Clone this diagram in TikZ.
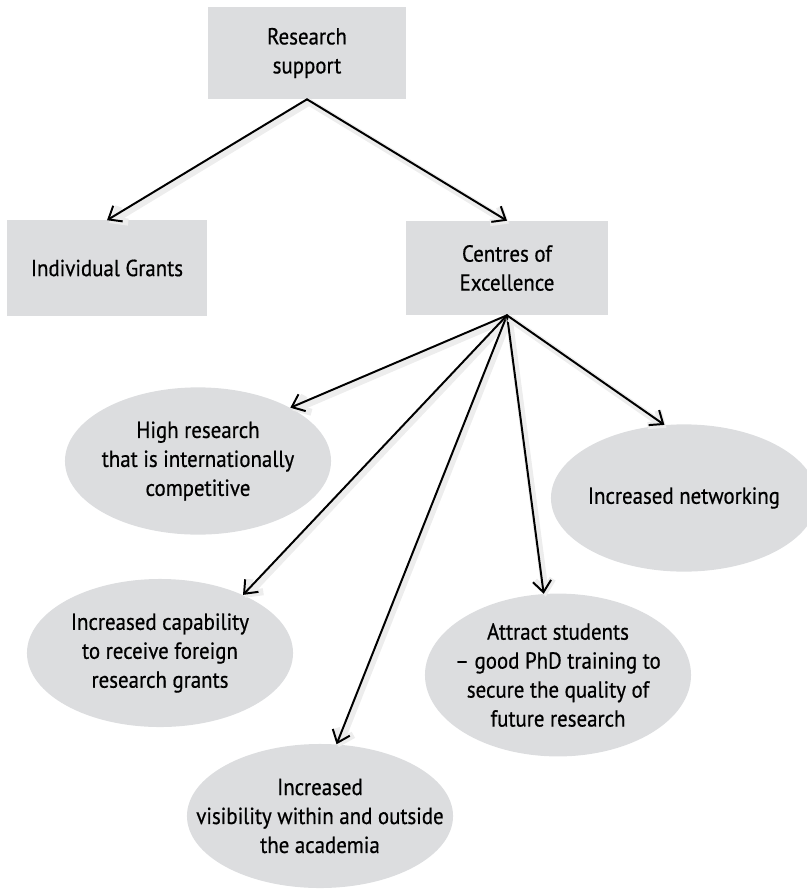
\documentclass[tikz,border=0pt]{standalone}
\usepackage{fontspec}
\setmainfont{PT Sans}[FakeStretch=0.9, FakeBold=0.6]
\usetikzlibrary{shapes.geometric, arrows.meta}
\definecolor{cellgray}{RGB}{220,221,223}
\newcommand{\boxfont}{\fontsize{16.5pt}{20.6pt}\selectfont}
\tikzset{>={Straight Barb[length=8pt,width=13pt]}}
\tikzset{
	block/.style={fill=cellgray, inner sep=0pt, align=center, font=\boxfont},
	oval/.style={ellipse, fill=cellgray, inner sep=0pt, minimum width=6.65cm},
	ovaltext/.style={align=center, font=\boxfont},
	link/.style={->, line width=1.4pt, line cap=round,
		preaction={draw, black!7, line width=5pt, transform canvas={shift={(1.5pt,-2pt)}}}},
}

\begin{document}
\begin{tikzpicture}[x=0.025cm, y=-0.025cm]
	\useasboundingbox (0,0) rectangle (807,889);
	% top level
	\node[block, minimum width=4.95cm, minimum height=2.3cm] (rs) at (307,53) {Research\\support};
	\node[block, minimum width=5cm, minimum height=2.375cm] (ig) at (107,268) {Individual Grants};
	\node[block, minimum width=5.025cm, minimum height=2.35cm] (ce) at (507,268) {Centres of\\Excellence};
	% effects of the centres
	\node[oval, minimum height=3.68cm] (hr) at (198,461) {};
	\node[ovaltext] (hrt) at (hr) {High research\\that is internationally\\competitive};
	\node[oval, minimum height=3.7cm] (cap) at (160,653) {};
	\node[ovaltext] (capt) at (cap) {Increased capability\\to receive foreign\\research grants};
	\node[oval, minimum height=3.6cm] (vis) at (320,816) {};
	\node[ovaltext] (vist) at (vis) {Increased\\visibility within and outside\\the academia};
	\node[oval, minimum height=4.07cm] (att) at (558,675) {};
	\node[ovaltext] (attt) at (att) {Attract students\\-- good PhD training to\\secure the quality of\\future research};
	\node[oval, minimum height=3.68cm] (net) at (684,498) {};
	\node[ovaltext] (nett) at (net) {Increased networking};
	% arrows
	\draw[link] (rs.south) -- (ig.north);
	\draw[link] (rs.south) -- (ce.north);
	\draw[link] (ce.south) -- (hr.30);
	\draw[link] (ce.south) -- (cap.35);
	\draw[link] (ce.south) -- (vis.77);
	\draw[link] (ce.south) -- (att.100);
	\draw[link] (ce.south) -- (net.105);
\end{tikzpicture}
\end{document}
